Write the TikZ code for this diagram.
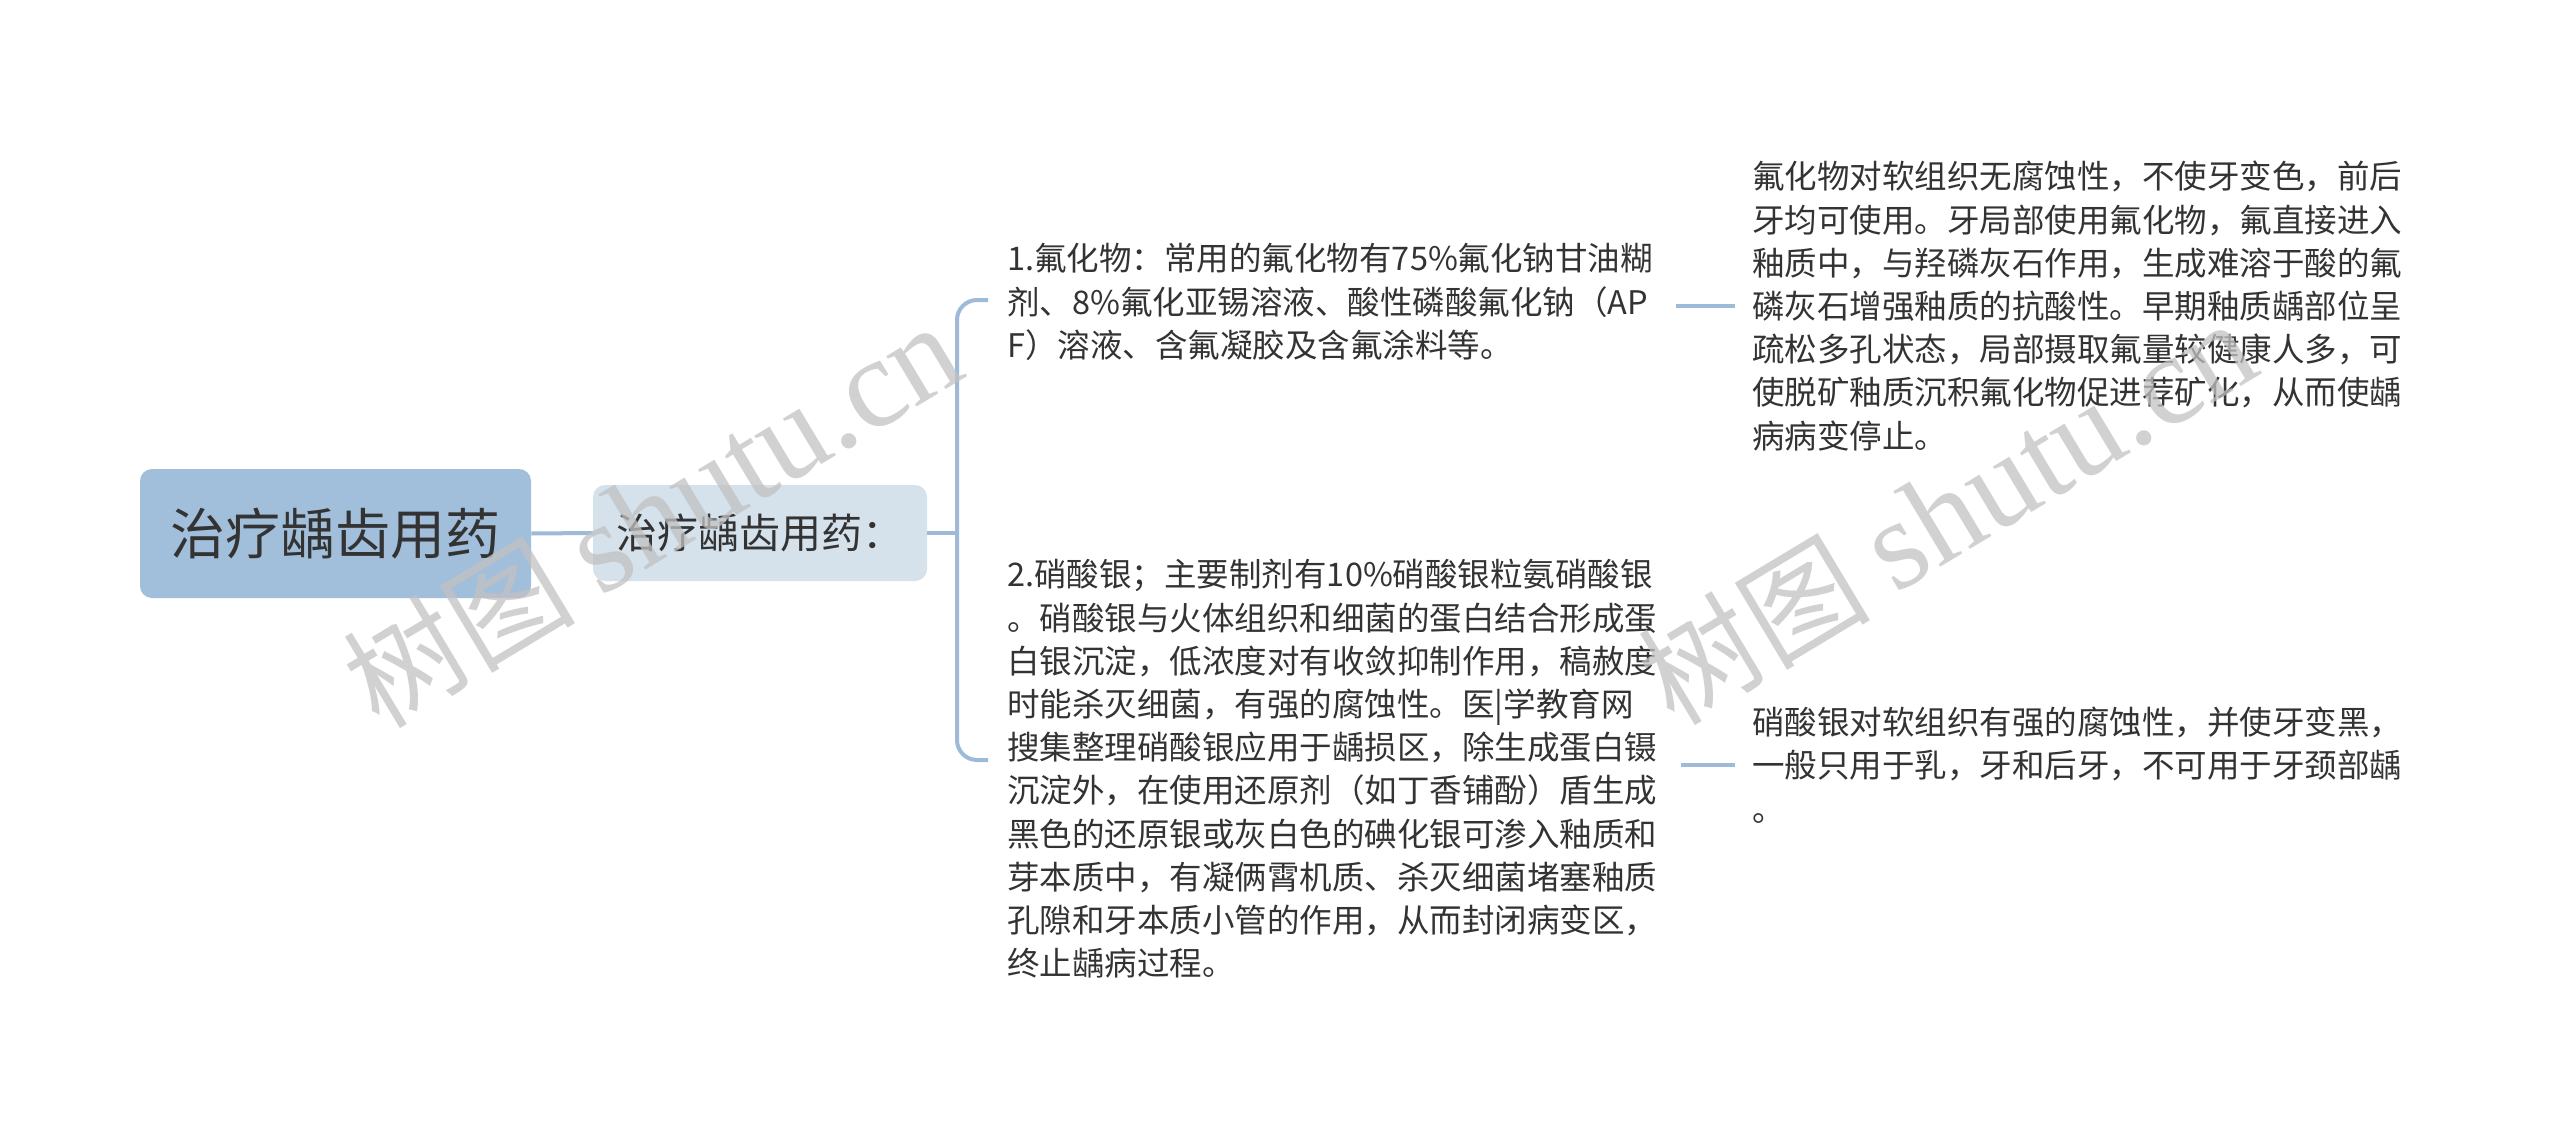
\documentclass[tikz,border=0pt]{standalone}
\usepackage{fontspec}
\setmainfont{Noto Sans CJK SC}
\newfontfamily\wmlatin{Liberation Serif}
\definecolor{rootfill}{HTML}{A1BEDA}
\definecolor{subfill}{HTML}{D5E1EB}
\definecolor{linecol}{HTML}{9DBAD8}
\definecolor{txt}{HTML}{333333}
\begin{document}
\begin{tikzpicture}[x=0.5pt,y=-0.5pt,
  rootbox/.style={fill=rootfill,rounded corners=6pt,minimum width=195.5pt,minimum height=64.5pt,inner sep=0pt,text=txt,font=\fontsize{27.5}{33}\selectfont},
  subbox/.style={fill=subfill,rounded corners=6pt,minimum width=167pt,minimum height=48pt,inner sep=0pt,text=txt,font=\fontsize{20.5}{25}\selectfont},
  leaf/.style={anchor=west,align=left,inner sep=0pt,text=txt,font=\fontsize{16.25}{21.6}\selectfont},
  conn/.style={draw=linecol,line width=2pt},
  wm/.style={rotate=31,text=black!24,opacity=0.75,font=\fontsize{58}{60}\selectfont}]
\useasboundingbox (0,0) rectangle (2560,1129);
\fill[white] (0,0) rectangle (2560,1129);

\node[rootbox] (root) at (335.5,533.5) {治疗龋齿用药};
\node[subbox] (sub) at (760,533) {治疗龋齿用药：};

\node[leaf] (t1) at (1007,302) {1.氟化物：常用的氟化物有75\%氟化钠甘油糊\\剂、8\%氟化亚锡溶液、酸性磷酸氟化钠（AP\\F）溶液、含氟凝胶及含氟涂料等。};
\node[leaf] (t2) at (1007,769) {2.硝酸银；主要制剂有10\%硝酸银粒氨硝酸银\\。硝酸银与火体组织和细菌的蛋白结合形成蛋\\白银沉淀，低浓度对有收敛抑制作用，稿赦度\\时能杀灭细菌，有强的腐蚀性。医|学教育网\\搜集整理硝酸银应用于龋损区，除生成蛋白镊\\沉淀外，在使用还原剂（如丁香铺酚）盾生成\\黑色的还原银或灰白色的碘化银可渗入釉质和\\芽本质中，有凝俩霄机质、杀灭细菌堵塞釉质\\孔隙和牙本质小管的作用，从而封闭病变区，\\终止龋病过程。};

\node[leaf] (r1) at (1752,306) {氟化物对软组织无腐蚀性，不使牙变色，前后\\牙均可使用。牙局部使用氟化物，氟直接进入\\釉质中，与羟磷灰石作用，生成难溶于酸的氟\\磷灰石增强釉质的抗酸性。早期釉质龋部位呈\\疏松多孔状态，局部摄取氟量较健康人多，可\\使脱矿釉质沉积氟化物促进荐矿化，从而使龋\\病病变停止。};
\node[leaf] (r2) at (1752,765) {硝酸银对软组织有强的腐蚀性，并使牙变黑，\\一般只用于乳，牙和后牙，不可用于牙颈部龋\\。};

\coordinate (fork) at (957,533);
\draw[conn] (root.east) -- (sub.west);
\draw[conn] (sub.east) -- (fork);
\draw[conn,rounded corners=10pt] ([xshift=-9.5pt,yshift=1pt]t1.west) -| (fork) |- ([xshift=-9.5pt,yshift=4.5pt]t2.west);
\draw[conn] ([xshift=11.5pt]t1.east |- r1.west) -- ([xshift=-8.5pt]r1.west);
\draw[conn] ([xshift=11.5pt]t2.east |- r2.west) -- ([xshift=-8.5pt]r2.west);

\node[wm] (w1) at (652,515) {树图 {\wmlatin\fontsize{64}{66}\selectfont shutu.cn}};
\node[wm] (w2) at (1947,512) {树图 {\wmlatin\fontsize{64}{66}\selectfont shutu.cn}};
\end{tikzpicture}
\end{document}
